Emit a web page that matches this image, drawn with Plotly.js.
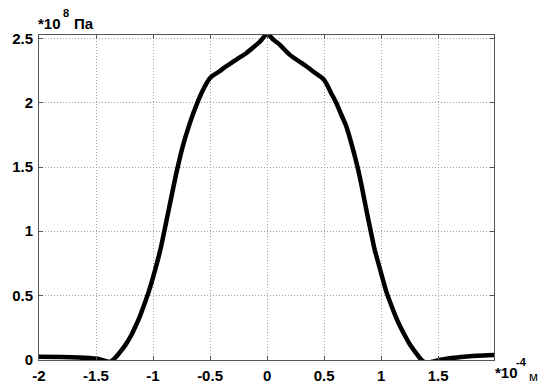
<!DOCTYPE html>
<html>
<head>
<meta charset="utf-8">
<script src="https://cdn.plot.ly/plotly-3.0.1.min.js"></script>
<style>html,body{margin:0;padding:0;background:#fff;}#chart{width:545px;height:387px;}</style>
</head>
<body>
<div id="chart"></div>
<script>
// x in units of 1e-4 m, pressure in units of 1e8 Pa
var xPos = [-2, -1.8, -1.65, -1.55, -1.5, -1.45, -1.42, -1.38, -1.34, -1.3, -1.24, -1.19, -1.15, -1.118, -1.08, -1.037, -1.0, -0.96, -0.937, -0.908, -0.864, -0.82, -0.79, -0.74, -0.68, -0.612, -0.56, -0.5, -0.42, -0.358, -0.3, -0.24, -0.18, -0.125, -0.06, 0, 0.06, 0.11, 0.2, 0.344, 0.42, 0.5, 0.56, 0.607, 0.65, 0.695, 0.75, 0.8, 0.83, 0.872, 0.916, 0.945, 0.97, 1.01, 1.045, 1.09, 1.13, 1.16, 1.206, 1.25, 1.31, 1.35, 1.39, 1.45, 1.51, 1.6, 1.7, 1.8, 1.9, 1.99];
var pressure = [0.02, 0.019, 0.015, 0.01, 0.006, -0.004, -0.012, -0.02, 0.005, 0.045, 0.115, 0.19, 0.265, 0.33, 0.42, 0.53, 0.64, 0.77, 0.85, 0.97, 1.16, 1.35, 1.475, 1.66, 1.835, 2.0, 2.105, 2.195, 2.245, 2.286, 2.32, 2.355, 2.39, 2.43, 2.48, 2.535, 2.49, 2.455, 2.375, 2.286, 2.235, 2.18, 2.08, 2.0, 1.91, 1.817, 1.65, 1.475, 1.35, 1.16, 0.97, 0.85, 0.77, 0.64, 0.53, 0.42, 0.33, 0.27, 0.19, 0.12, 0.045, 0.0, -0.025, -0.018, -0.005, 0.008, 0.018, 0.026, 0.031, 0.034];
var xTicks = [-2, -1.5, -1, -0.5, 0, 0.5, 1, 1.5];
var xTickLabels = ['-2', '-1.5', '-1', '-0.5', '0', '0.5', '1', '1.5'];
var yTicks = [0, 0.5, 1, 1.5, 2, 2.5];
var yTickLabels = ['0', '0.5', '1', '1.5', '2', '2.5'];
var yUnit = ['*10', '8', 'Па'];
var xUnit = ['*10', '-4', 'м'];

var FAM = 'Liberation Sans, Arial, sans-serif';
var tickFont = {family: FAM, size: 15, color: '#000', weight: 'bold'};

var trace = {
  x: xPos, y: pressure, mode: 'lines', type: 'scatter',
  line: {color: '#000', width: 4.5, shape: 'spline', smoothing: 0.8},
  hoverinfo: 'skip'
};

var layout = {
  width: 545, height: 387,
  margin: {l: 39, r: 51, t: 35, b: 27},
  paper_bgcolor: '#fff', plot_bgcolor: '#fff',
  showlegend: false,
  xaxis: {
    range: [-2, 1.99], tickvals: xTicks, ticktext: xTickLabels,
    showgrid: true, gridcolor: '#a0a0a0', griddash: '1px,2px', gridwidth: 1,
    zeroline: false, showline: true, linecolor: '#555', linewidth: 1, mirror: 'ticks',
    ticks: 'inside', ticklen: 4, tickcolor: '#555',
    ticklabelstandoff: 2,
    tickfont: tickFont
  },
  yaxis: {
    range: [-0.005, 2.53], tickvals: yTicks, ticktext: yTickLabels,
    showgrid: true, gridcolor: '#a0a0a0', griddash: '1px,2px', gridwidth: 1,
    zeroline: false, showline: true, linecolor: '#555', linewidth: 1, mirror: 'ticks',
    ticks: 'inside', ticklen: 4, tickcolor: '#555',
    ticklabelstandoff: 2,
    tickfont: tickFont
  }
};

Plotly.newPlot('chart', [trace], layout, {staticPlot: true, displayModeBar: false}).then(function () {
  // unit labels (MATLAB-style multipliers) placed as SVG text in the chart's own svg
  var svg = document.querySelector('#chart .main-svg:last-of-type') || document.querySelector('#chart svg');
  var ns = 'http://www.w3.org/2000/svg';
  var g = document.createElementNS(ns, 'g');
  g.setAttribute('class', 'unit-labels');
  function t(x, y, s, size, weight) {
    var e = document.createElementNS(ns, 'text');
    e.setAttribute('x', x); e.setAttribute('y', y);
    e.setAttribute('font-family', FAM); e.setAttribute('font-size', size);
    e.setAttribute('font-weight', weight); e.setAttribute('fill', '#000');
    e.textContent = s; g.appendChild(e);
  }
  t(38, 29, yUnit[0], 15, 'bold');
  t(63, 17, yUnit[1], 11, 'bold');
  t(74, 29, yUnit[2], 15, 'bold');
  t(495, 378, xUnit[0], 15, 'bold');
  t(516, 366, xUnit[1], 11, 'bold');
  t(529, 381, xUnit[2], 13, 'normal');
  svg.appendChild(g);
});
</script>
</body>
</html>
